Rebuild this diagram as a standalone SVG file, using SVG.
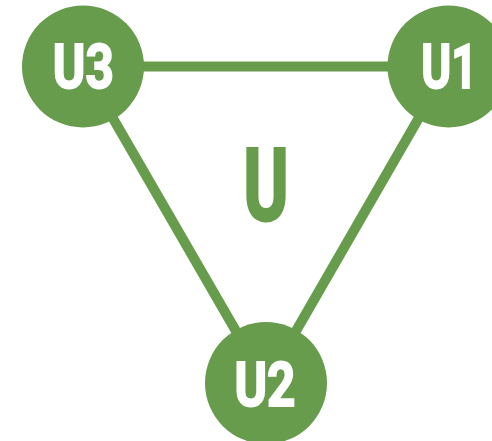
<svg xmlns="http://www.w3.org/2000/svg" width="492" height="441" viewBox="0 0 492 441">
<style>
.e{stroke:#669c4b;stroke-width:10;fill:none}
.n{fill:#669c4b}
.t{font-family:Roboto,"Liberation Sans",sans-serif;font-weight:bold;font-size:62px;fill:#fff;stroke:#fff;stroke-width:2;stroke-linejoin:miter;text-anchor:middle}
.c{font-family:Roboto,"Liberation Sans",sans-serif;font-weight:bold;font-size:100px;fill:#669c4b;stroke:#669c4b;stroke-width:3;stroke-linejoin:miter;text-anchor:middle}
</style>
<rect width="492" height="441" fill="#fff"/>
<g id="connectors">
<line class="e" x1="83" y1="66.5" x2="448.5" y2="66.5"/>
<line class="e" x1="83" y1="66.5" x2="266" y2="383"/>
<line class="e" x1="448.5" y1="66.5" x2="266" y2="383"/>
</g>
<g id="center"><text class="c" x="266" y="220.2" textLength="45" lengthAdjust="spacingAndGlyphs">U</text></g>
<g id="U3"><circle class="n" cx="83" cy="66.5" r="61"/><text class="t" x="83.3" y="88.3" textLength="61" lengthAdjust="spacingAndGlyphs">U3</text></g>
<g id="U1"><circle class="n" cx="448.5" cy="66.5" r="61"/><text class="t" x="449.2" y="88.3" textLength="56" lengthAdjust="spacingAndGlyphs">U1</text></g>
<g id="U2"><circle class="n" cx="266" cy="383" r="61"/><text class="t" x="265" y="406.3" textLength="61" lengthAdjust="spacingAndGlyphs">U2</text></g>
</svg>
